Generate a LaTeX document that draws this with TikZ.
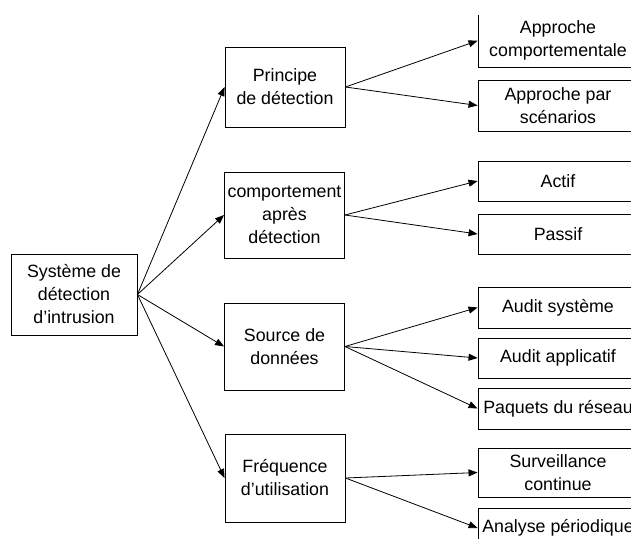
\documentclass[tikz,border=0pt]{standalone}
\usepackage{fontspec}
\setmainfont{Liberation Sans}
\usetikzlibrary{arrows.meta}
\begin{document}
\begin{tikzpicture}
    [x=1pt,y=-1pt,
     pre/.style={<-,>={Triangle[length=9pt,width=7pt]},line width=0.8pt},
     box/.style={shape=rectangle,draw=black,line width=0.9pt,align=center,inner sep=0pt,
       minimum width=120pt,font=\fontsize{17.8}{23}\selectfont},
     leaf/.style={box,minimum width=160pt}]
    \useasboundingbox (0,0) rectangle (631,538);
    \clip (0,15.5) rectangle (631,538);
    \node [box,minimum width=126pt,minimum height=81pt] (ids) at (74,294.5) {Système de\\détection\\d’intrusion};
    \node [box,minimum height=80pt] (principe) at (285,87) {Principe\\de détection};
    \node [box,minimum height=86pt] (comport) at (284.5,215) {comportement\\après\\détection};
    \node [box,minimum height=87pt] (source) at (284.5,346.5) {Source de\\données};
    \node [box,minimum height=88pt] (freq) at (285,478) {Fréquence\\d’utilisation};
    \draw [pre] (principe.west) -- (ids.east);
    \draw [pre] (comport.west) -- (ids.east);
    \draw [pre] (source.west) -- (ids.east);
    \draw [pre] (freq.west) -- (ids.east);
    \node [leaf,minimum height=52.5pt] (appcomp) at (558,40.75) {Approche\\comportementale};
    \node [leaf,minimum height=51pt] (appscen) at (558,105.5) {Approche par\\scénarios};
    \draw [pre] (appcomp.west) -- (principe.east);
    \draw [pre] (appscen.west) -- (principe.east);
    \node [leaf,minimum height=40pt] (actif) at (558,181) {Actif};
    \node [leaf,minimum height=40pt] (passif) at (558,234) {Passif};
    \draw [pre] (actif.west) -- (comport.east);
    \draw [pre] (passif.west) -- (comport.east);
    \node [leaf,minimum height=41pt] (auditsys) at (558,307.5) {Audit système};
    \node [leaf,minimum height=40pt] (auditapp) at (558,358) {Audit applicatif};
    \node [leaf,minimum height=41pt] (paquets) at (558,408.5) {Paquets du réseau};
    \draw [pre] (auditsys.west) -- (source.east);
    \draw [pre] (auditapp.west) -- (source.east);
    \draw [pre] (paquets.west) -- (source.east);
    \node [leaf,minimum height=49pt] (surv) at (558,472.5) {Surveillance\\continue};
    \node [leaf,minimum height=40pt] (analyse) at (558,528) {Analyse périodique};
    \draw [pre] (surv.west) -- (freq.east);
    \draw [pre] (analyse.west) -- (freq.east);
  \end{tikzpicture}
\end{document}
